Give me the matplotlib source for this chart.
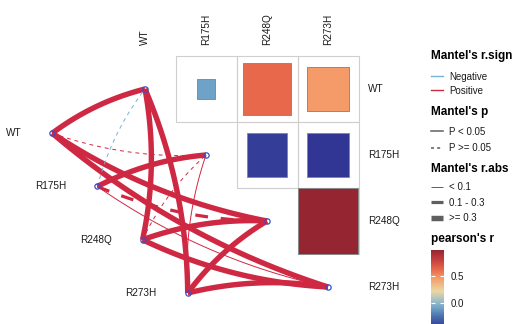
import numpy as np
import pandas as pd
import matplotlib
matplotlib.use('Agg')
import matplotlib.pyplot as plt
from matplotlib.patches import Rectangle
from matplotlib.colors import LinearSegmentedColormap, Normalize
from matplotlib.cm import ScalarMappable
from matplotlib.lines import Line2D

plt.rcParams['font.family'] = ['Liberation Sans', 'DejaVu Sans']

# ---------------- data ----------------
genes = ['WT', 'R175H', 'R248Q', 'R273H']

# upper-triangle pearson correlations
corr_row = ['WT', 'WT', 'WT', 'R175H', 'R175H', 'R248Q']
corr_col = ['R175H', 'R248Q', 'R273H', 'R248Q', 'R273H', 'R273H']
corr_r = [-0.09, 0.62, 0.46, -0.43, -0.46, 0.98]

# Mantel test links (env -> spec)
mantel_env = ['WT'] * 4 + ['R175H'] * 4 + ['R248Q'] * 4 + ['R273H'] * 4
mantel_spec = genes * 4
mantel_r = [0.45, 0.05, 0.40, 0.38,
            -0.05, 0.45, 0.20, 0.06,
            0.35, 0.04, 0.50, 0.42,
            0.36, 0.07, 0.44, 0.50]
mantel_p = [0.001, 0.30, 0.001, 0.001,
            0.40, 0.001, 0.08, 0.04,
            0.001, 0.50, 0.001, 0.001,
            0.001, 0.03, 0.001, 0.001]

sign_labels = ['Negative', 'Positive']
p_labels = ['P < 0.05', 'P >= 0.05']
rabs_labels = ['< 0.1', '0.1 - 0.3', '>= 0.3']
cbar_ticks = [0.0, 0.5]

# ---------------- styles ----------------
W, H = 516, 324
POS_COL = '#CF2843'
NEG_COL = '#78B1D6'
sign_colors = {'Negative': NEG_COL, 'Positive': POS_COL}
p_styles = {'P < 0.05': '-', 'P >= 0.05': (0, (4, 4))}
rabs_widths = {'< 0.1': 0.7, '0.1 - 0.3': 2.3, '>= 0.3': 3.9}
SAG = 0.05

cmap_vals = [-0.46, -0.25, -0.09, 0.0, 0.22, 0.46, 0.62, 0.80, 0.98]
cmap_cols = ['#313695', '#4a6fae', '#6fa3c6', '#91b5cb', '#e9d9a2',
             '#f59b6a', '#e8694a', '#c63d3e', '#952530']
vmin, vmax = min(corr_r), max(corr_r)
norm = Normalize(vmin=vmin, vmax=vmax)
cmap = LinearSegmentedColormap.from_list(
    'pr', [((v - vmin) / (vmax - vmin), c) for v, c in zip(cmap_vals, cmap_cols)])

# layout (pixel geometry of matrix)
CX0, CSX, CY0, CSY = 145, 61, 89, 66
ENV_X0, ENV_DX, ENV_Y0, ENV_DY = -1.52, 0.74, 0.67, 0.807

fig = plt.figure(figsize=(W / 100, H / 100), dpi=100)
ax = fig.add_axes([0, 0, 1, 1])
ax.set_xlim(-CX0 / CSX, (W - CX0) / CSX)
ax.set_ylim((H - CY0) / CSY, -CY0 / CSY)
ax.axis('off')

idx = {g: i for i, g in enumerate(genes)}

# ---------------- correlation matrix ----------------
for i in range(len(genes)):
    for j in range(i + 1, len(genes)):
        ax.add_patch(Rectangle((j - 0.5, i - 0.5), 1, 1, fill=False,
                               edgecolor='#cfcfcf', lw=0.8, zorder=1))
for rg, cg, r in zip(corr_row, corr_col, corr_r):
    i, j = idx[rg], idx[cg]
    s = np.sqrt(abs(r))
    ax.add_patch(Rectangle((j - s / 2, i - s / 2), s, s,
                           facecolor=cmap(norm(r)), edgecolor='#8a8a8a',
                           lw=0.7, zorder=2))

# labels of matrix
for g in genes:
    ax.text(idx[g], (45 - CY0) / CSY, g, rotation=90, ha='center', va='bottom',
            fontsize=7.2, color='#1a1a1a')
    ax.text((368 - CX0) / CSX, idx[g], g, ha='left', va='center',
            fontsize=7.2, color='#1a1a1a')

# ---------------- Mantel links ----------------
env_xy = {g: (ENV_X0 + ENV_DX * i, ENV_Y0 + ENV_DY * i) for i, g in enumerate(genes)}
spec_xy = {g: (float(i), float(i)) for i, g in enumerate(genes)}

df = pd.DataFrame({'env': mantel_env, 'spec': mantel_spec,
                   'r': mantel_r, 'p': mantel_p})
df['sign'] = np.where(df['r'] < 0, 'Negative', 'Positive')
df['pcat'] = pd.cut(df['p'], [-np.inf, 0.05, np.inf], labels=p_labels, right=False)
df['rcat'] = pd.cut(df['r'].abs(), [-np.inf, 0.1, 0.3, np.inf], labels=rabs_labels,
                    right=False)

tD = ax.transData
tinv = tD.inverted()
tt = np.linspace(0, 1, 80)
for _, row in df.iterrows():
    p0 = tD.transform(env_xy[row['env']])
    p1 = tD.transform(spec_xy[row['spec']])
    d = p1 - p0
    L = np.hypot(*d)
    left = d[0] > 0.1 * L and d[1] > 0
    sgn = 1 if left else -1
    nrm = np.array([-d[1], d[0]]) / L
    ctrl = (p0 + p1) / 2 + nrm * 2 * SAG * L * sgn
    pts = ((1 - tt)[:, None] ** 2 * p0 + 2 * ((1 - tt) * tt)[:, None] * ctrl
           + (tt ** 2)[:, None] * p1)
    dat = tinv.transform(pts)
    ax.plot(dat[:, 0], dat[:, 1], color=sign_colors[row['sign']],
            lw=rabs_widths[row['rcat']], ls=p_styles[row['pcat']],
            solid_capstyle='butt', dash_capstyle='butt', zorder=3)

# nodes
for g in genes:
    ax.plot(*spec_xy[g], 'o', ms=3.8, mfc='none', mec='#3a4fc8', mew=0.9, zorder=4)
    ax.plot(*env_xy[g], 'o', ms=3.8, mfc='none', mec='#3a4fc8', mew=0.9, zorder=4)
    ax.text(env_xy[g][0] - 31 / CSX, env_xy[g][1], g, ha='right', va='center',
            fontsize=7.2, color='#1a1a1a')

# ---------------- legends ----------------
LX = 431
def title(y, s):
    fig.text(LX / W, 1 - y / H, s, ha='left', va='center', fontsize=8.5,
             fontweight='bold', color='black')

def leg(handles, labels, ytop, spacing):
    lg = fig.legend(handles, labels, loc='upper left',
                    bbox_to_anchor=(LX / W, 1 - ytop / H), borderpad=0,
                    borderaxespad=0, handlelength=1.25, handletextpad=0.6,
                    labelspacing=spacing, frameon=False, fontsize=7)
    for t in lg.get_texts():
        t.set_color('#1a1a1a')
    return lg

title(56, "Mantel's r.sign")
leg([Line2D([], [], color=sign_colors[s], lw=1.0) for s in sign_labels],
    sign_labels, 71.5, 0.42)
title(111.5, "Mantel's p")
leg([Line2D([], [], color='#5f5f5f', lw=1.1, ls=('-' if k == 0 else (0, (2, 2))))
     for k, s in enumerate(p_labels)], p_labels, 126.5, 0.7)
title(168.5, "Mantel's r.abs")
leg([Line2D([], [], color='#5f5f5f', lw=rabs_widths[s], solid_capstyle='butt')
     for s in rabs_labels], rabs_labels, 182.5, 0.55)
title(239, "pearson's r")

cax = fig.add_axes([LX / W, (H - 328) / H, 13 / W, 78 / H])
cb = fig.colorbar(ScalarMappable(norm=norm, cmap=cmap), cax=cax)
cb.outline.set_visible(False)
cb.set_ticks(cbar_ticks)
cb.set_ticklabels([f'{v:.1f}' for v in cbar_ticks])
cax.tick_params(axis='y', direction='in', length=3, width=0.8, color='white',
                left=True, right=True, labelleft=False, labelright=True,
                labelsize=7, labelcolor='#1a1a1a', pad=5)

fig.savefig('out.png', dpi=100)
